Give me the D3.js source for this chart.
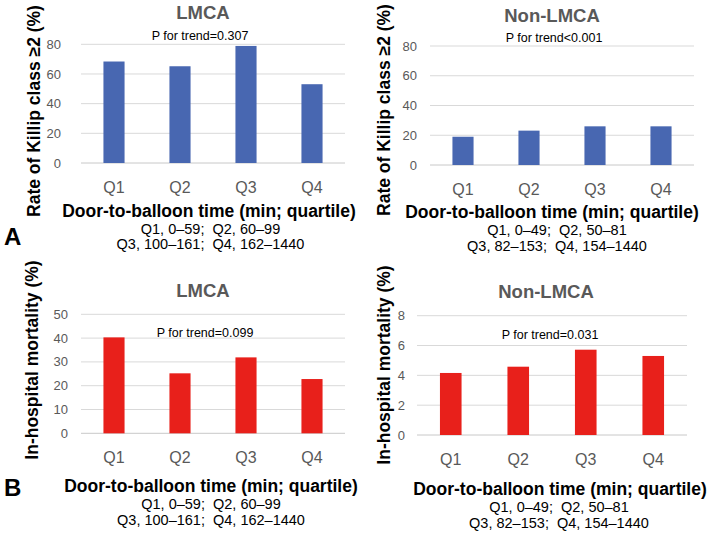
<!DOCTYPE html>
<html><head><meta charset="utf-8">
<script src="https://cdn.jsdelivr.net/npm/d3@7"></script>
<style>body{margin:0;background:#fff}svg{display:block}</style>
</head><body>
<svg id="c" width="708" height="537"></svg>
<script>
const categories = ["Q1","Q2","Q3","Q4"];
const killipLMCA = [68.4, 65.2, 78.9, 53.1];
const killipNonLMCA = [19.0, 23.1, 26.0, 26.0];
const mortalityLMCA = [40.3, 25.2, 31.9, 22.8];
const mortalityNonLMCA = [4.16, 4.58, 5.72, 5.30];
const killipTicks = [0,20,40,60,80];
const mortLMCATicks = [0,10,20,30,40,50];
const mortNonTicks = [0,2,4,6,8];
const titles = ["LMCA","Non-LMCA","LMCA","Non-LMCA"];
const pTexts = ["P for trend=0.307","P for trend<0.001","P for trend=0.099","P for trend=0.031"];
const yLabels = ["Rate of Killip class \u22652 (%)","Rate of Killip class \u22652 (%)","In-hospital mortality (%)","In-hospital mortality (%)"];
const xLabel = "Door-to-balloon time (min; quartile)";
const rangesLMCA = ["Q1, 0\u201359;  Q2, 60\u201399","Q3, 100\u2013161;  Q4, 162\u20131440"];
const rangesNon = ["Q1, 0\u201349;  Q2, 50\u201381","Q3, 82\u2013153;  Q4, 154\u20131440"];

const svg = d3.select("#c");
const font = "Liberation Sans, Arial, sans-serif";

const panels = [
  {vals:killipLMCA, ticks:killipTicks, color:"#4867B1", x0:81, x1:345, y0:163, y1:44.3,
   titleX:203, titleY:18.5, pX:200, pY:40, yLabX:40, yLabY:111, xLabX:209, xLabY:216.7, rX:210.5, rY:[234,249.3], ranges:rangesLMCA, tickX:61},
  {vals:killipNonLMCA, ticks:killipTicks, color:"#4867B1", x0:430, x1:694, y0:165, y1:46,
   titleX:552, titleY:22, pX:554, pY:41.5, yLabX:390, yLabY:110, xLabX:552, xLabY:218.3, rX:557, rY:[235,251], ranges:rangesNon, tickX:417},
  {vals:mortalityLMCA, ticks:mortLMCATicks, color:"#E8201B", x0:81, x1:345, y0:433.3, y1:314.3,
   titleX:203, titleY:296.5, pX:205, pY:336.5, yLabX:38, yLabY:360, xLabX:211, xLabY:492, rX:211, rY:[509,525], ranges:rangesLMCA, tickX:68},
  {vals:mortalityNonLMCA, ticks:mortNonTicks, color:"#E8201B", x0:417, x1:687, y0:435, y1:315.7,
   titleX:546, titleY:298, pX:550, pY:339, yLabX:390, yLabY:365, xLabX:560, xLabY:495, rX:559, rY:[511.7,528.3], ranges:rangesNon, tickX:405}
];

panels.forEach((p,i)=>{
  const g = svg.append("g");
  const x = d3.scaleBand().domain(categories).range([p.x0,p.x1]).paddingInner(0.68).paddingOuter(0.34);
  const y = d3.scaleLinear().domain([0, d3.max(p.ticks)]).range([p.y0,p.y1]);
  g.selectAll("line.grid").data(p.ticks).enter().append("line")
    .attr("x1",p.x0).attr("x2",p.x1).attr("y1",d=>y(d)).attr("y2",d=>y(d))
    .attr("stroke",d=>d===0?"#c8c8c8":"#d9d9d9").attr("stroke-width",1);
  g.selectAll("text.tick").data(p.ticks).enter().append("text")
    .attr("x",p.tickX).attr("y",d=>y(d)).attr("dy","0.35em").attr("text-anchor","end")
    .attr("font-family",font).attr("font-size",13).attr("fill","#595959").text(d=>d);
  g.selectAll("rect").data(p.vals).enter().append("rect")
    .attr("x",(d,j)=>x(categories[j])).attr("width",x.bandwidth())
    .attr("y",d=>y(d)).attr("height",d=>p.y0-y(d)).attr("fill",p.color);
  g.selectAll("text.cat").data(categories).enter().append("text")
    .attr("x",d=>x(d)+x.bandwidth()/2).attr("y",p.y0+24).attr("dy","0.35em").attr("text-anchor","middle")
    .attr("font-family",font).attr("font-size",16).attr("fill","#595959").text(d=>d);
  g.append("text").attr("x",p.titleX).attr("y",p.titleY).attr("text-anchor","middle")
    .attr("font-family",font).attr("font-weight","bold").attr("font-size",18.5).attr("fill","#595959").text(titles[i]);
  g.append("text").attr("x",p.pX).attr("y",p.pY).attr("text-anchor","middle")
    .attr("font-family",font).attr("font-size",12.5).attr("fill","#000").text(pTexts[i]);
  g.append("text").attr("transform",`translate(${p.yLabX},${p.yLabY}) rotate(-90)`).attr("text-anchor","middle")
    .attr("font-family",font).attr("font-weight","bold").attr("font-size",17.5).attr("fill","#000").text(yLabels[i]);
  g.append("text").attr("x",p.xLabX).attr("y",p.xLabY).attr("text-anchor","middle")
    .attr("font-family",font).attr("font-weight","bold").attr("font-size",17.5).attr("fill","#000").text(xLabel);
  p.ranges.forEach((r,k)=>{
    g.append("text").attr("x",p.rX).attr("y",p.rY[k]).attr("text-anchor","middle")
      .style("white-space","pre")
      .attr("font-family",font).attr("font-size",14.5).attr("fill","#000").text(r);
  });
});
svg.append("text").attr("x",4).attr("y",245).attr("font-family",font).attr("font-weight","bold").attr("font-size",24).text("A");
svg.append("text").attr("x",4).attr("y",496).attr("font-family",font).attr("font-weight","bold").attr("font-size",24).text("B");
</script>
</body></html>
